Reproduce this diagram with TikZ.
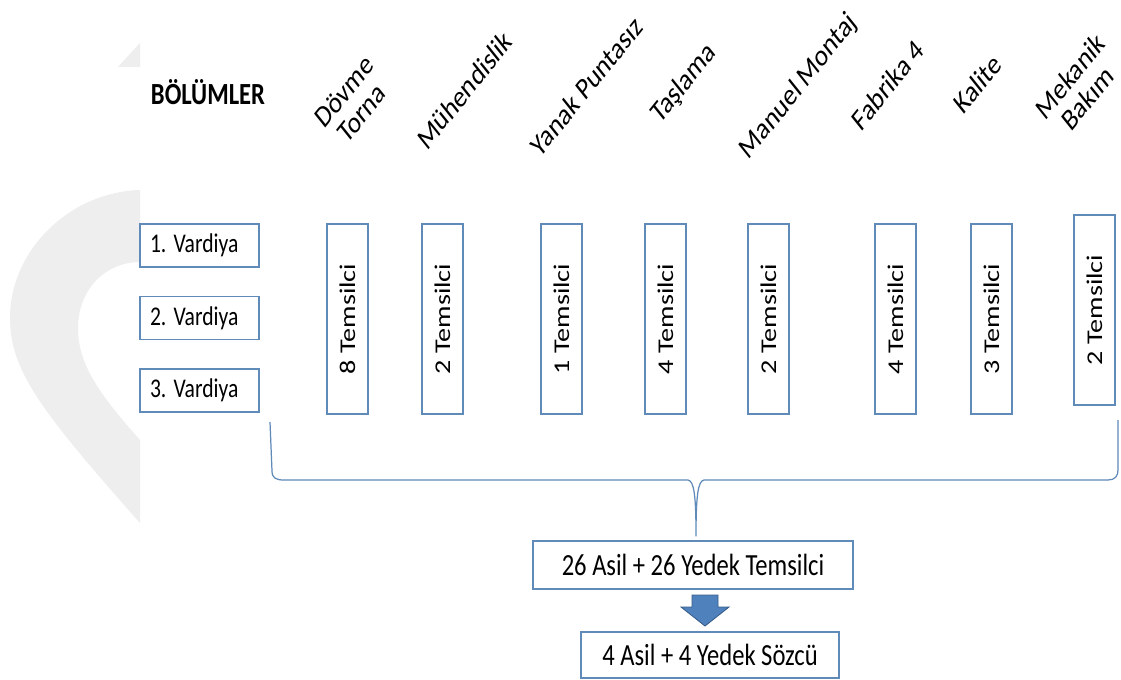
\documentclass[tikz,border=0pt]{standalone}
\usepackage{fontspec}
\setmainfont{Carlito}
\usepackage{graphicx}
\usepackage{tikz}
\usetikzlibrary{calc}
\definecolor{boxblue}{RGB}{96,138,184}
\definecolor{arrowblue}{RGB}{79,129,189}
\definecolor{arrowedge}{RGB}{56,93,138}
\definecolor{markgray}{RGB}{238,238,238}
\newcommand{\vstretch}[1]{\scalebox{1}[1.25]{#1}}
\newcommand{\vtext}[1]{\rotatebox{90}{\scalebox{1.25}[1]{#1}}}
\newcommand{\slanted}[1]{\scalebox{1}[1.25]{\rotatebox{45}{\begin{tabular}{@{}c@{}}#1\end{tabular}}}}

\begin{document}
\begin{tikzpicture}[x=0.02cm, y=-0.02cm,
    shiftbox/.style={draw=boxblue, line width=0.7pt, text width=1.98cm, inner xsep=0.2cm, inner ysep=0pt, minimum height=0.86cm, align=left, font=\fontsize{12.3}{14}\selectfont},
    colbox/.style={draw=boxblue, line width=0.7pt, minimum width=0.82cm, minimum height=3.8cm, inner sep=0pt, font=\fontsize{12.8}{15}\selectfont},
    dept/.style={font=\fontsize{14}{14}\selectfont, inner sep=0pt},
    totalbox/.style={draw=boxblue, line width=0.7pt, inner sep=0pt, font=\fontsize{14}{17}\selectfont},
    brace/.style={draw=boxblue, line width=0.7pt}]
    \path [use as bounding box, fill=white] (0,0) rectangle (1121,679);

    \fill [markgray] (118,67) -- (140,43) -- (140,67) -- cycle;
    \fill [markgray] (140,190) .. controls (70,192) and (10,250) .. (10,318) .. controls (10,370) and (40,410) .. (140,523) -- (140,440) .. controls (100,395) and (78,365) .. (78,328) .. controls (78,290) and (105,262) .. (140,262) -- cycle;

    \node [font=\bfseries\fontsize{14}{17}\selectfont, anchor=base] (title) at (208,105) {\vstretch{BÖLÜMLER}};

    \node [shiftbox] (shift1) at (199.5,245.5) {\vstretch{1.\ Vardiya}};
    \node [shiftbox] (shift2) at (199.5,318) {\vstretch{2.\ Vardiya}};
    \node [shiftbox] (shift3) at (199.5,390.5) {\vstretch{3.\ Vardiya}};

    \foreach \cx/\cy/\cnt/\lx/\ly/\dname [count=\i] in {
        347.5/319/8/355/105/{Dövme\\Torna},
        442.5/319/2/467/93/Mühendislik,
        561.5/319/1/589/89/Yanak Puntasız,
        665.5/319/4/685/85/Taşlama,
        768.5/319/2/800/88/Manuel Montaj,
        895.5/319/4/890/88/Fabrika 4,
        991.5/319/3/980/87/Kalite,
        1094.5/310/2/1081/90/{Mekanik\\Bakım}}{
        \node [colbox] (col\i) at (\cx,\cy) {\vtext{\cnt\ Temsilci}};
        \node [dept] (dept\i) at (\lx,\ly) {\slanted{\dname}};
    }

    \node [totalbox, minimum width=6.4cm, minimum height=0.96cm] (tot) at (693,565) {\vstretch{26 Asil + 26 Yedek Temsilci}};
    \node [totalbox, minimum width=5.16cm, minimum height=0.92cm] (spk) at (710,655) {\vstretch{4 Asil + 4 Yedek Sözcü}};

    \coordinate (bl) at (270,422);
    \coordinate (br) at (1118,420);
    \coordinate (tip) at ($(tot.north)+(3,-4)$);
    \draw [brace] (bl) -- (272,471) .. controls (272,478) and (276,480) .. (284,480) -- (688,480) .. controls (694,481) and (696,495) .. (tip) .. controls (696,495) and (698,481) .. (704,480) -- (1108,480) .. controls (1115,480) and (1118,476) .. (1118,470) -- (br);

    \coordinate (mid) at ($(tot.south)!0.5!(spk.north)$);
    \filldraw [fill=arrowblue, draw=arrowedge, line width=0.5pt, shift={(mid)}] (-9.5,-15.5) -- (16.5,-15.5) -- (16.5,-3.5) -- (27.5,-3.5) -- (3.5,15.5) -- (-20.5,-3.5) -- (-9.5,-3.5) -- cycle;
\end{tikzpicture}
\end{document}
